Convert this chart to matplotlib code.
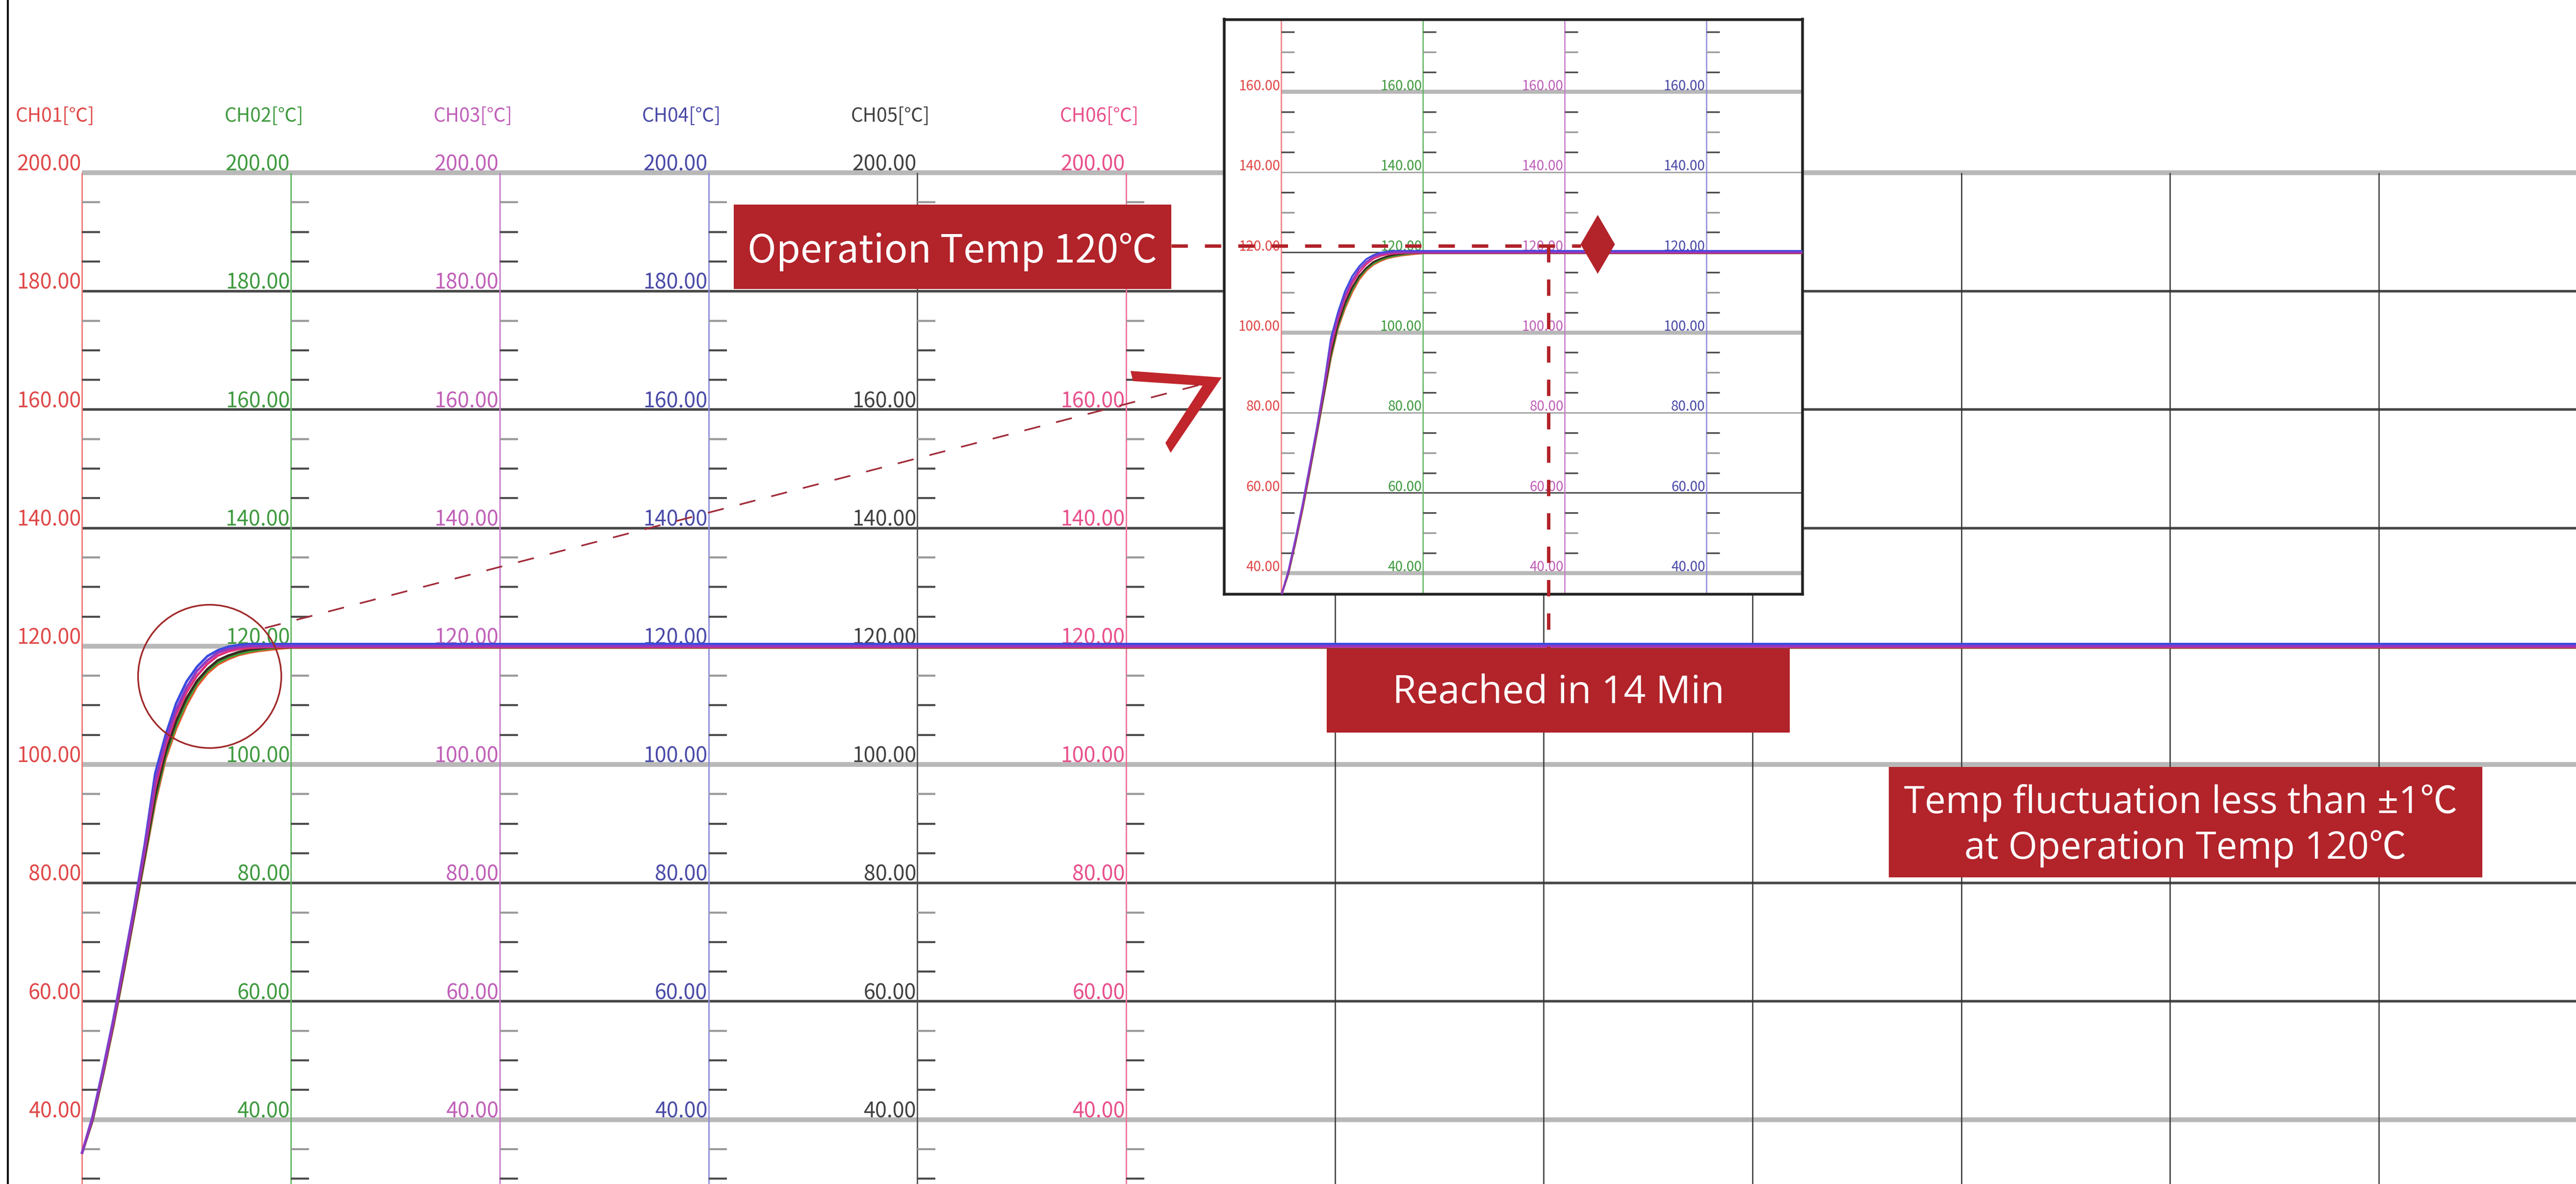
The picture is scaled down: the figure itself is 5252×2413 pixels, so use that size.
import matplotlib
matplotlib.use('Agg')
import matplotlib.pyplot as plt
from matplotlib.patches import Rectangle, Circle, Polygon

# elapsed time in minutes (one grid column = 10 min)
time_min = [0.0, 0.5, 1.0, 1.5, 2.0, 2.5, 3.0, 3.5, 4.0, 4.5, 5.0,
            5.5, 6.0, 6.5, 7.0, 7.5, 8.0, 8.5, 9.0, 9.5, 10.0, 120.0]

# temperature per channel [C]
temp_ch01 = [34.4, 39.8, 47.5, 55.8, 65.0, 74.5, 84.0, 93.5, 101.0, 106.0, 110.0,
             113.2, 115.4, 116.9, 117.8, 118.5, 118.9, 119.2, 119.4, 119.6, 119.75, 119.75]
temp_ch02 = [34.4, 39.9, 47.6, 56.0, 65.2, 74.7, 84.3, 94.1, 101.5, 106.6, 110.6,
             113.7, 115.8, 117.2, 118.1, 118.7, 119.1, 119.4, 119.6, 119.8, 119.8, 119.8]
temp_ch03 = [34.4, 40.3, 48.2, 56.7, 66.1, 75.6, 85.9, 97.2, 104.0, 109.2, 113.0,
             115.8, 117.6, 118.9, 119.5, 119.8, 120.0, 120.0, 120.0, 120.0, 120.0, 120.0]
temp_ch04 = [34.4, 40.5, 48.5, 57.0, 66.5, 76.0, 86.5, 98.5, 105.0, 110.3, 114.0,
             116.5, 118.3, 119.3, 119.9, 120.2, 120.35, 120.35, 120.35, 120.35, 120.35, 120.35]
temp_ch05 = [34.4, 40.0, 47.8, 56.2, 65.4, 74.9, 84.7, 94.8, 102.1, 107.3, 111.2,
             114.1, 116.1, 117.6, 118.4, 119.0, 119.4, 119.6, 119.8, 119.8, 119.8, 119.8]
temp_ch06 = [34.4, 40.2, 48.0, 56.4, 65.8, 75.3, 85.4, 96.1, 103.2, 108.4, 112.2,
             115.0, 117.0, 118.4, 119.1, 119.5, 119.7, 119.8, 119.85, 119.85, 119.85, 119.85]

channel_names = ['CH01[℃]', 'CH02[℃]', 'CH03[℃]', 'CH04[℃]', 'CH05[℃]', 'CH06[℃]']
major_temps = [40, 60, 80, 100, 120, 140, 160, 180, 200]
minor_temps = [30, 35, 45, 50, 55, 65, 70, 75, 85, 90, 95, 105, 110, 115,
               125, 130, 135, 145, 150, 155, 165, 170, 175, 185, 190, 195]
inset_major = [40, 60, 80, 100, 120, 140, 160]
inset_minor = [45, 50, 55, 65, 70, 75, 85, 90, 95, 105, 110, 115,
               125, 130, 135, 145, 150, 155, 165, 170, 175]

text_colors = ['#e04848', '#3f9a3f', '#c060b8', '#4a4aa8', '#404040', '#e8508c']
axis_colors = ['#f07878', '#5cb45c', '#c878cc', '#8c8cdc', '#505050', '#f07098']
curve_colors = ['#e8582a', '#3aa03a', '#9038c0', '#3a4ae0', '#3a2a20', '#e0307a']
draw_order = [0, 1, 4, 5, 3, 2]
all_temps = [temp_ch01, temp_ch02, temp_ch03, temp_ch04, temp_ch05, temp_ch06]

W, H, DPI = 5252, 2413, 100
BOX_RED = '#b2232a'
LINE_RED = '#a02a38'
NARROW = ['Noto Sans CJK JP', 'DejaVu Sans']

# main chart layout (pixels of the full picture)
X0_PX, PX_PER_MIN = 167.4, 42.57        # CH01 axis position, px per minute
Y200_PX, PX_PER_DEG = 352.0, 12.06      # 200 C gridline, px per degree
col_step = 10.0                          # minutes per grid column

t_left = -X0_PX / PX_PER_MIN
t_right = (W - X0_PX) / PX_PER_MIN
T_top = 200 + Y200_PX / PX_PER_DEG
T_bot = 200 - (H - Y200_PX) / PX_PER_DEG

fig = plt.figure(figsize=(W / DPI, H / DPI), dpi=DPI)
fig.patch.set_facecolor('white')

ax = fig.add_axes([0, 0, 1, 1])
ax.set_xlim(t_left, t_right)
ax.set_ylim(T_bot, T_top)
ax.axis('off')

# left frame line
ax.axvline((16 - X0_PX) / PX_PER_MIN, color='#111111', lw=3)

# horizontal gridlines
light_grid = {40, 100, 120, 200}
for v in major_temps:
    if v in light_grid:
        ax.hlines(v, 0, t_right, color='#b8b8b8', lw=7, zorder=1)
    else:
        ax.hlines(v, 0, t_right, color='#484848', lw=3.8, zorder=1)

# plain vertical gridlines right of the channel axes
n_cols = int(t_right // col_step) + 1
for c in range(6, n_cols):
    ax.vlines(c * col_step, T_bot, 200, color='#333333', lw=1.8, zorder=1)

# channel axes with minor ticks and labels
tick_len = 37 / PX_PER_MIN
for i, name in enumerate(channel_names):
    tc = i * col_step
    ax.vlines(tc, T_bot, 200, color=axis_colors[i], lw=2, zorder=2)
    for k, v in enumerate(minor_temps):
        shade = '#4c4c4c' if k % 3 != 1 else '#9a9a9a'
        ax.hlines(v, tc, tc + tick_len, color=shade, lw=3, zorder=2)
    for v in major_temps:
        ax.text(tc - 0.05, v + 0.35, f'{v:.2f}', ha='right', va='baseline',
                color=text_colors[i], fontsize=31, family=NARROW, zorder=3)
    ax.text(tc - 1.29, 209.5, name, ha='center', va='center',
            color=text_colors[i], fontsize=28, family=NARROW, zorder=3)

for i in draw_order:
    ax.plot(time_min, all_temps[i], color=curve_colors[i], lw=3.6, zorder=4)

# zoomed inset (same chart, different vertical range)
in_x0, in_x1, in_y0, in_y1 = 2495.6, 3674.5, 39.5, 1210.6
in_red_px, in_px_per_min, in_y40_px, in_px_per_deg = 2612.3, 28.89, 1167.8, 8.17
axin = fig.add_axes([in_x0 / W, 1 - in_y1 / H, (in_x1 - in_x0) / W, (in_y1 - in_y0) / H],
                    zorder=5)
axin.set_facecolor('white')
in_tl = -(in_red_px - in_x0) / in_px_per_min
in_tr = (in_x1 - in_red_px) / in_px_per_min
in_Tb = 40 - (in_y1 - in_y40_px) / in_px_per_deg
in_Tt = 40 + (in_y40_px - in_y0) / in_px_per_deg
axin.set_xlim(in_tl, in_tr)
axin.set_ylim(in_Tb, in_Tt)
axin.set_xticks([])
axin.set_yticks([])
for s in axin.spines.values():
    s.set_color('#222222')
    s.set_linewidth(4)

inset_light = {40, 100, 160}
inset_dark = {60, 120}
for v in inset_major:
    if v in inset_light:
        axin.hlines(v, 0, in_tr, color='#b8b8b8', lw=6, zorder=1)
    elif v in inset_dark:
        axin.hlines(v, 0, in_tr, color='#444444', lw=2, zorder=1)
    else:
        axin.hlines(v, 0, in_tr, color='#a8a8a8', lw=2.2, zorder=1)

in_tick_len = 27 / in_px_per_min
for i in range(4):
    tc = i * col_step
    axin.axvline(tc, color=axis_colors[i], lw=1.8, zorder=2)
    for k, v in enumerate(inset_minor):
        shade = '#4c4c4c' if k % 3 != 1 else '#9a9a9a'
        axin.hlines(v, tc, tc + in_tick_len, color=shade, lw=2.4, zorder=2)
    for v in inset_major:
        axin.text(tc - 0.08, v + 0.45, f'{v:.2f}', ha='right', va='baseline',
                  color=text_colors[i], fontsize=20, family=NARROW, zorder=3)

for i in draw_order:
    axin.plot(time_min, all_temps[i], color=curve_colors[i], lw=2.6, zorder=4)

# annotation layer in picture pixels
ov = fig.add_axes([0, 0, 1, 1], zorder=10)
ov.set_xlim(0, W)
ov.set_ylim(H, 0)
ov.axis('off')
ov.patch.set_alpha(0)

ov.add_patch(Circle((427.5, 1378.5), 146, fill=False, edgecolor='#a02828', lw=2.4))
ov.plot([540, 2455], [1280, 782], color=LINE_RED, lw=2.4, dashes=(10, 10))
ov.add_patch(Polygon([(2305, 756), (2490.7, 769.3), (2386.7, 922.7),
                      (2376, 902.7), (2451.7, 786), (2310, 776.7)],
                     closed=True, facecolor='#c0262c', edgecolor='none'))

ov.add_patch(Rectangle((1496, 417), 892, 172, facecolor=BOX_RED, edgecolor='none'))
ov.text(1942, 535, 'Operation Temp 120℃', ha='center', va='baseline', color='white',
        fontsize=57, family=['Noto Sans CJK KR', 'DejaVu Sans'])
ov.plot([2388, 3223], [501, 501], color=BOX_RED, lw=5, dashes=(4.8, 5))
ov.plot([3157, 3157], [501, 1322], color=BOX_RED, lw=5, dashes=(4.8, 5))
ov.add_patch(Polygon([(3222.5, 498), (3257.5, 438), (3292.5, 498), (3257.5, 558)],
                     closed=True, facecolor=BOX_RED, edgecolor='none'))

ov.add_patch(Rectangle((2705, 1322), 944, 171, facecolor=BOX_RED, edgecolor='none'))
ov.text(3177, 1433, 'Reached in 14 Min', ha='center', va='baseline', color='white',
        fontsize=57, family=['Open Sans', 'Noto Sans CJK KR'])

ov.add_patch(Rectangle((3851, 1563), 1210, 225, facecolor=BOX_RED, edgecolor='none'))
ov.text(4446, 1657, 'Temp fluctuation less than ±1℃', ha='center', va='baseline',
        color='white', fontsize=55, family=['Open Sans', 'Noto Sans CJK KR'])
ov.text(4456, 1750, 'at Operation Temp 120℃', ha='center', va='baseline',
        color='white', fontsize=55, family=['Open Sans', 'Noto Sans CJK KR'])

fig.savefig('out.png', dpi=DPI, facecolor='white')
